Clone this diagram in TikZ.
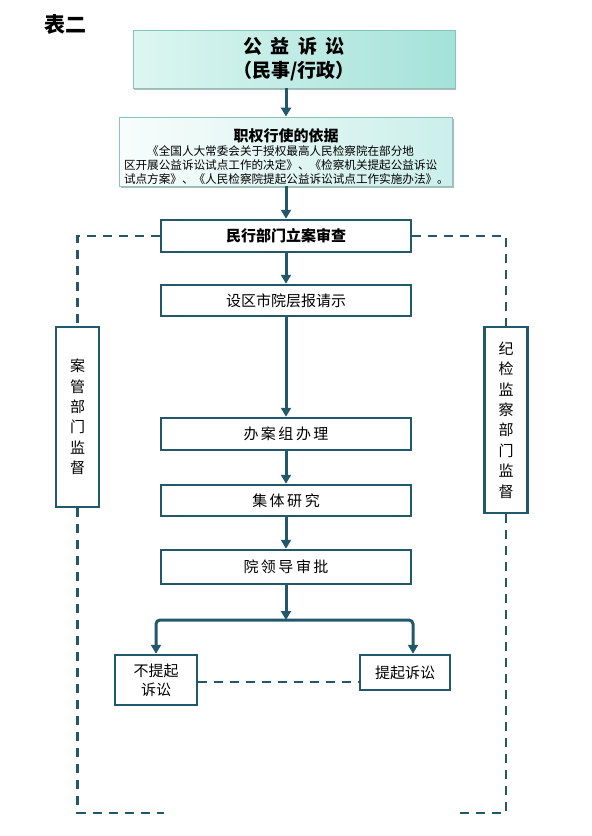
\documentclass[tikz,border=0pt]{standalone}
\usepackage{fontspec}
\setmainfont{Noto Sans CJK SC}
\usetikzlibrary{arrows.meta,shadows}

\definecolor{boxline}{HTML}{22596A}
\definecolor{headl}{HTML}{DDF6F1}
\definecolor{headr}{HTML}{A4E2D9}
\definecolor{basisl}{HTML}{F7FDFC}
\definecolor{basisr}{HTML}{CBEFEA}
\definecolor{headedge}{HTML}{86C4BC}

\begin{document}
\begin{tikzpicture}[
    x=1pt, y=-1pt,
    every node/.style={font=\fontsize{15}{18}\selectfont},
    >={Triangle[length=9pt,width=10pt]},
    headbox/.style={draw=headedge, line width=0.8pt, left color=headl, right color=headr,
        drop shadow={shadow xshift=1pt, shadow yshift=-2pt, fill=gray!70, opacity=0.8}},
    flowbox/.style={draw=boxline, line width=2.5pt, fill=white,
        minimum width=250pt, minimum height=32pt, inner sep=2pt},
    sidebox/.style={draw=boxline, line width=2.5pt, fill=white, minimum width=43pt,
        align=center, font=\fontsize{15}{20.4}\selectfont},
    flow/.style={->, line width=3pt, boxline},
    watch/.style={dash pattern=on 9pt off 7pt, line width=2.5pt, boxline},
]

% Parameters
\def\colx{286}   % x of the main column

\useasboundingbox (0,0) rectangle (592,836);

% === Title ===
\node[font=\fontsize{21}{21}\selectfont\bfseries] (title) at (65,25) {表二};

% === Head boxes ===
\node[headbox, minimum width=322pt, minimum height=58pt, align=center,
      font=\fontsize{19}{24}\selectfont\bfseries] (case) at (294,59)
    {公\hspace{0.45em}益\hspace{0.45em}诉\hspace{0.45em}讼\\（民事/行政）};

\node[headbox, left color=basisl, right color=basisr, minimum width=333pt,
      minimum height=69pt, text width=324pt, inner xsep=4pt, inner ysep=0pt] (basis) at (\colx,151.5)
    {\lineskiplimit=-100pt
     \centering\fontsize{15}{15}\selectfont\bfseries\rule{0pt}{24pt}职权行使的依据\par
     \raggedright\fontsize{11.6}{14}\selectfont\mdseries
     \hspace*{2em}《全国人大常委会关于授权最高人民检察院在部分地\\
     区开展公益诉讼试点工作的决定》、《检察机关提起公益诉讼\\
     试点方案》、《人民检察院提起公益诉讼试点工作实施办法》。\par};

% === Main column ===
\node[flowbox, font=\fontsize{15}{18}\selectfont\bfseries] (accept) at (\colx,236) {民行部门立案审查};
\node[flowbox, minimum height=31pt] (report) at (\colx,300.5) {设区市院层报请示};
\node[flowbox] (handle) at (\colx,434) {办\,案\,组\,办\,理};
\node[flowbox, minimum height=31pt] (study) at (\colx,500.5) {集\,体\,研\,究};
\node[flowbox, minimum height=34pt] (approve) at (\colx,567) {院\,领\,导\,审\,批};

% === Outcomes ===
\node[flowbox, minimum width=82pt, minimum height=50pt, align=center,
      font=\fontsize{15}{19}\selectfont] (nosuit) at (156,680) {不提起\\诉讼};
\node[flowbox, minimum width=90pt, minimum height=35pt] (suit) at (405,672.5) {提起诉讼};

% === Supervision boxes ===
\node[sidebox, minimum height=180pt] (lwatch) at (77.5,417) {案\\管\\部\\门\\监\\督};
\node[sidebox, minimum height=186pt] (rwatch) at (506,420) {纪\\检\\监\\察\\部\\门\\监\\督};

% === Flow arrows ===
\draw[flow] (case.south -| basis.north) -- (basis.north);
\draw[flow] (basis) -- (accept);
\draw[flow] (accept) -- (report);
\draw[flow] (report) -- (handle);
\draw[flow] (handle) -- (study);
\draw[flow] (study) -- (approve);

\coordinate (split) at (\colx,620);
\draw[flow] (approve) -- (split);
\draw[flow, rounded corners=4pt] (split) -| (nosuit.north);
\draw[flow, rounded corners=4pt] (split) -| ([xshift=8pt]suit.north);

% === Dashed supervision lines ===
\coordinate (lend) at (164,813);
\coordinate (rend) at (459,813);
\draw[watch] (accept.west) -| (lwatch.north);
\draw[watch] (lwatch.south) |- (lend);
\draw[watch] (accept.east) -| (rwatch.north);
\draw[watch] (rwatch.south) |- (rend);
\draw[watch] ([yshift=-2pt]nosuit.east) -- ([yshift=-2pt]nosuit.east -| suit.west);

\end{tikzpicture}
\end{document}
